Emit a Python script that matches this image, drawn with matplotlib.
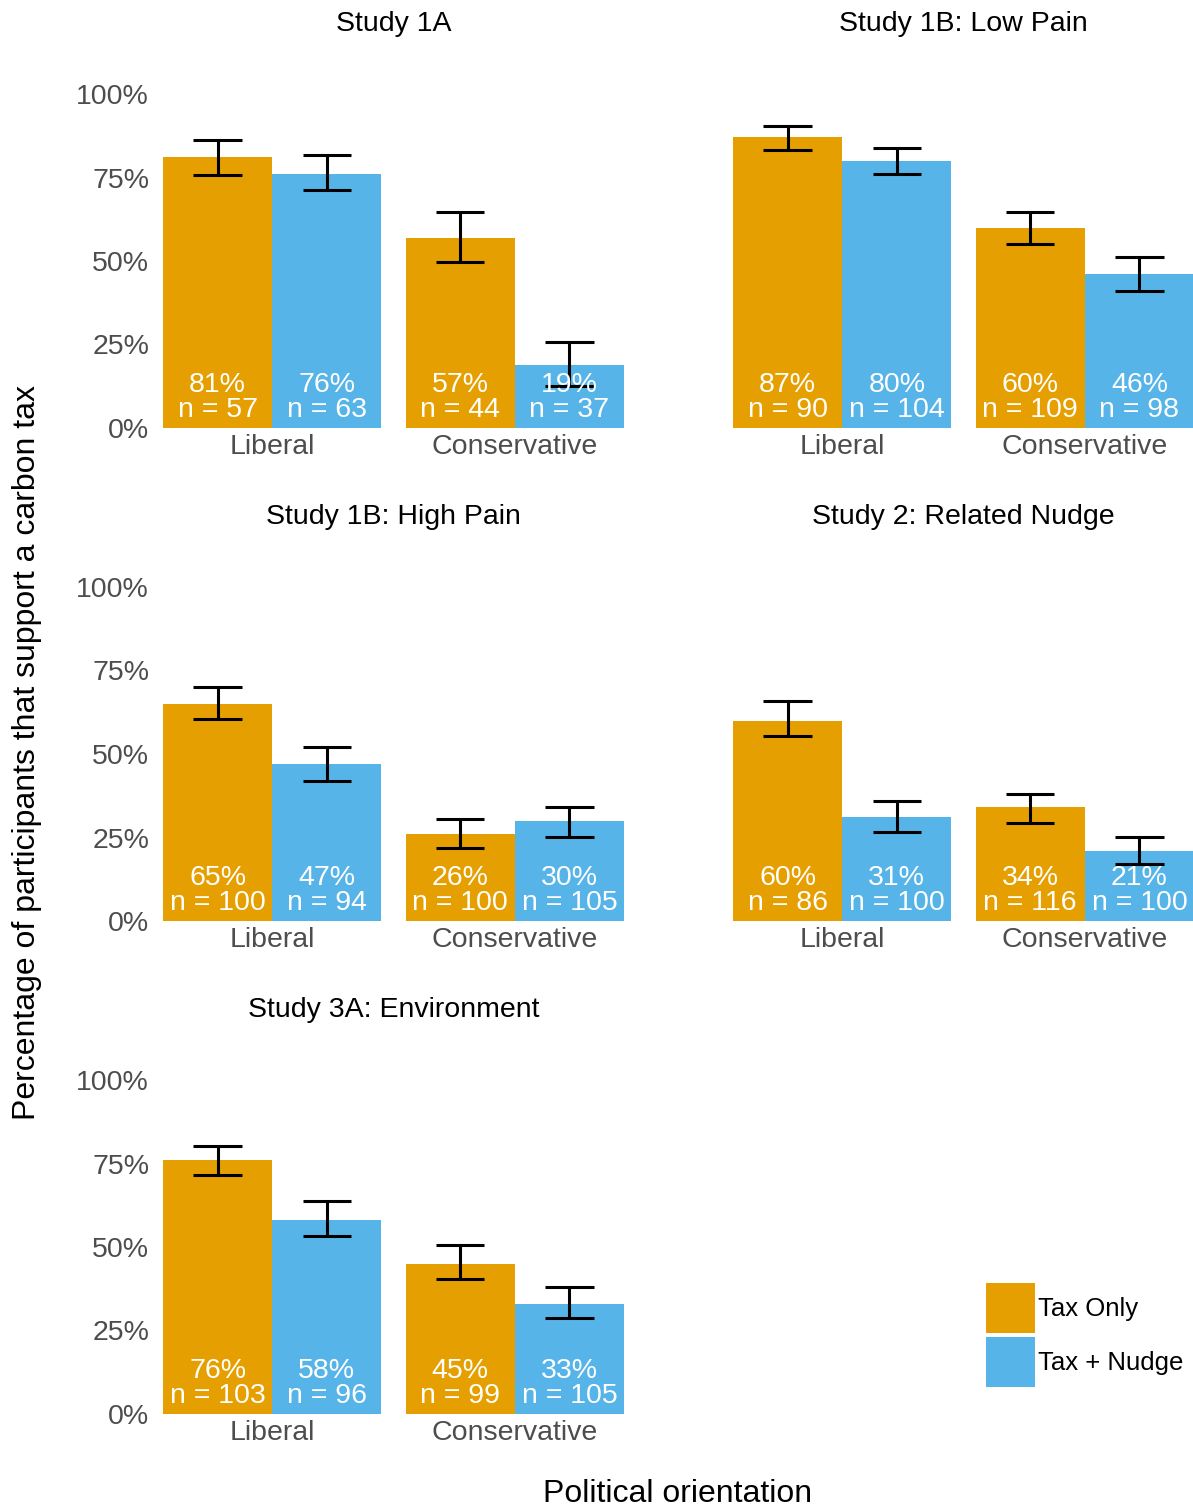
import matplotlib.pyplot as plt
import numpy as np

plt.rcParams['font.family'] = ['Liberation Sans', 'DejaVu Sans']

W, H = 1193, 1506

studies = ["Study 1A", "Study 1B: Low Pain", "Study 1B: High Pain",
           "Study 2: Related Nudge", "Study 3A: Environment"]
groups = ["Liberal", "Conservative"]
conditions = ["Tax Only", "Tax + Nudge"]
colors = ["#E69F00", "#56B4E9"]

# per study: [lib tax, lib nudge, cons tax, cons nudge]
pct = [
    [81, 76, 57, 19],
    [87, 80, 60, 46],
    [65, 47, 26, 30],
    [60, 31, 34, 21],
    [76, 58, 45, 33],
]
n_obs = [
    [57, 63, 44, 37],
    [90, 104, 109, 98],
    [100, 94, 100, 105],
    [86, 100, 116, 100],
    [103, 96, 99, 105],
]
ci_lo = [
    [0.757, 0.713, 0.497, 0.126],
    [0.832, 0.760, 0.551, 0.410],
    [0.605, 0.419, 0.219, 0.251],
    [0.554, 0.266, 0.293, 0.171],
    [0.716, 0.533, 0.404, 0.287],
]
ci_hi = [
    [0.862, 0.817, 0.647, 0.257],
    [0.904, 0.838, 0.647, 0.512],
    [0.701, 0.521, 0.305, 0.341],
    [0.659, 0.359, 0.380, 0.251],
    [0.802, 0.638, 0.506, 0.380],
]

fig = plt.figure(figsize=(W / 100, H / 100), dpi=100)


def px_axes(x0, y_top, x1, y_bot):
    return fig.add_axes([x0 / W, 1 - y_bot / H, (x1 - x0) / W, (y_bot - y_top) / H])


grey = "#4D4D4D"
bw = 0.45
for i, name in enumerate(studies):
    row, col = divmod(i, 2)
    x0 = 156 if col == 0 else 726
    y_bot = 428 + 493 * row
    ax = px_axes(x0, y_bot - 334, x0 + 475, y_bot)
    xs = np.array([1 - bw / 2, 1 + bw / 2, 2 - bw / 2, 2 + bw / 2])
    vals = np.array(pct[i]) / 100
    cols = [colors[0], colors[1], colors[0], colors[1]]
    ax.bar(xs, vals, width=bw, color=cols, linewidth=0)
    ax.vlines(xs, ci_lo[i], ci_hi[i], color="black", lw=2.2)
    ax.hlines(ci_lo[i], xs - 0.1, xs + 0.1, color="black", lw=2.2)
    ax.hlines(ci_hi[i], xs - 0.1, xs + 0.1, color="black", lw=2.2)
    for x, p, n in zip(xs, pct[i], n_obs[i]):
        ax.annotate(f"{p}%", (x, 0), xytext=(0, 36), textcoords="offset pixels",
                    ha="center", va="baseline", color="white", fontsize=20.5)
        ax.annotate(f"n = {n}", (x, 0), xytext=(0, 11), textcoords="offset pixels",
                    ha="center", va="baseline", color="white", fontsize=20.5)
    ax.set_xlim(0.521, 2.479)
    ax.set_ylim(0, 1)
    ax.set_xticks([1, 2], groups)
    if col == 0:
        ax.set_yticks([0, 0.25, 0.5, 0.75, 1.0], ["0%", "25%", "50%", "75%", "100%"])
    else:
        ax.set_yticks([])
    ax.tick_params(length=0, labelsize=20.5, labelcolor=grey)
    ax.tick_params(axis="y", pad=5)
    ax.tick_params(axis="x", pad=4.5)
    for s in ax.spines.values():
        s.set_visible(False)
    ax.set_facecolor("none")
    cx = 393.5 if col == 0 else 963
    fig.text(cx / W, 1 - (31 + 493 * row) / H, name, ha="center", va="baseline",
             fontsize=20.5)

fig.text(27 / W, 1 - 753 / H, "Percentage of participants that support a carbon tax",
         rotation=90, ha="center", va="center", fontsize=23)
fig.text(678 / W, 1 - 1502 / H, "Political orientation", ha="center", va="baseline",
         fontsize=23)

# legend
for k, (lab, c) in enumerate(zip(conditions, colors)):
    top = 1283 + 54 * k
    fig.patches.append(plt.Rectangle((986 / W, 1 - (top + 50) / H), 49 / W, 50 / H,
                                     transform=fig.transFigure, color=c, lw=0))
    fig.text(1038 / W, 1 - (top + 26) / H, lab, ha="left", va="center", fontsize=18.5)

fig.savefig("out.png", dpi=100)
